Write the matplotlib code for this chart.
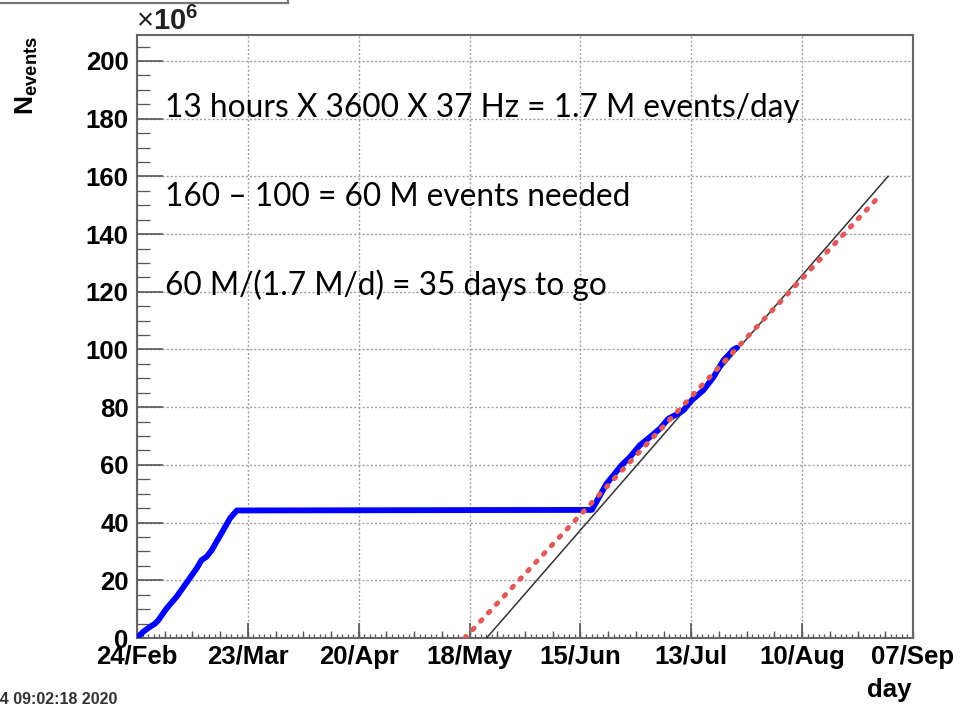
import matplotlib
matplotlib.use("Agg")
import matplotlib.pyplot as plt
from matplotlib.lines import Line2D
from matplotlib.ticker import MultipleLocator

plt.rcParams['font.family'] = ['Liberation Sans', 'DejaVu Sans']
plt.rcParams['mathtext.fontset'] = 'custom'
plt.rcParams['mathtext.rm'] = 'Liberation Sans'
plt.rcParams['mathtext.bf'] = 'Liberation Sans:bold'

# days since 24/Feb/2020
blue_day = [0.0, 1.6, 3.3, 4.5, 5.4, 7.5, 10.0, 13.0, 15.1, 16.3, 17.6, 18.9, 20.1,
            21.8, 23.5, 25.2, 114.9, 118.6, 122.4, 124.5, 127.0, 129.6, 132.1,
            134.2, 135.9, 138.0, 140.1, 143.0, 145.6, 148.1, 150.6, 151.5]
blue_val = [0.0, 2.2, 3.9, 4.9, 6.2, 10.3, 14.3, 20.1, 24.2, 27.0, 28.2, 30.5, 33.4,
            37.4, 41.5, 44.2, 44.4, 53.5, 59.9, 62.7, 66.8, 69.7, 72.6,
            76.0, 77.2, 78.9, 82.4, 85.8, 90.4, 96.2, 99.9, 100.6]

# straight-line projections (start/end)
black_day = [88.3, 189.7]
black_val = [0.0, 160.0]
red_day = [82.8, 188.1]
red_val = [0.0, 154.0]

tick_days = [0, 28, 56, 84, 112, 140, 168, 196]
tick_labels = ['24/Feb', '23/Mar', '20/Apr', '18/May', '15/Jun', '13/Jul', '10/Aug', '07/Sep']

notes = ['13 hours X 3600 X 37 Hz = 1.7 M events/day',
         '160 \u2013 100 = 60 M events needed',
         '60 M/(1.7 M/d) = 35 days to go']

W, H = 976, 711
fig = plt.figure(figsize=(W / 100, H / 100), dpi=100)
ax = fig.add_axes([137 / W, 1 - 638 / H, (913 - 137) / W, (638 - 35) / H])

ax.plot(black_day, black_val, color='#333333', lw=1.1, zorder=3)
ax.plot(blue_day, blue_val, color='#0000ff', lw=4.2, solid_joinstyle='round',
        solid_capstyle='round', zorder=4)
ax.plot(red_day, red_val, color='#e05a5a', lw=3.6, linestyle=(0, (0.4, 1.9)),
        dash_capstyle='round', zorder=5)

ax.set_xlim(0, 196)
ax.set_ylim(0, 209)
ax.set_xticks(tick_days)
ax.set_xticklabels(tick_labels)
ax.xaxis.set_minor_locator(MultipleLocator(1.4))
ax.yaxis.set_major_locator(MultipleLocator(20))
ax.yaxis.set_minor_locator(MultipleLocator(5))

tc = '#555555'
ax.tick_params(axis='x', which='major', direction='in', length=11, width=1.2, color=tc,
               pad=5, labelsize=18.5)
ax.tick_params(axis='x', which='minor', direction='in', length=2.6, width=0.9, color=tc)
ax.tick_params(axis='y', which='major', direction='in', length=19, width=1.2, color=tc,
               pad=6, labelsize=18.5)
ax.tick_params(axis='y', which='minor', direction='in', length=9.5, width=0.9, color=tc)
for lab in ax.get_xticklabels() + ax.get_yticklabels():
    lab.set_fontweight('bold')

# medium ticks every 7 days
sec = ax.secondary_xaxis('bottom')
sec.set_xticks([d for d in range(0, 197, 7)])
sec.tick_params(direction='in', length=5, width=1.0, color=tc, labelbottom=False)
sec.spines['bottom'].set_visible(False)

ax.grid(True, which='major', color='#a0a0a0', lw=1.0, linestyle=(0, (1.5, 1.5)))
for s in ax.spines.values():
    s.set_color('#666666')
    s.set_linewidth(1.5)

# annotations
for txt, yc in zip(notes, [108, 197, 285]):
    fig.text(165 / W, 1 - yc / H, txt, family='Lato', fontsize=22.8, va='center', ha='left',
             color='black')

fig.text(27 / W, 1 - 36 / H, r'$\mathbf{N}_{\mathbf{events}}$', rotation=90,
         va='top', ha='center', fontsize=19)
fig.text(136 / W, 1 - 30 / H, r'$\times\mathbf{10^{6}}$', fontsize=21, ha='left',
         va='baseline', color='#222222')
fig.text(911 / W, 1 - 690 / H, 'day', fontsize=18.5, fontweight='bold', ha='right',
         va='center')
fig.text(117 / W, 1 - 699 / H, 'Fri Jul 24 09:02:18 2020', fontsize=11.5,
         fontweight='bold', ha='right', va='center', color='#333333')

# edge of the title box at top left
fig.add_artist(Line2D([0, 288 / W], [1 - 3 / H, 1 - 3 / H], color='#777777', lw=1.6))
fig.add_artist(Line2D([288 / W, 288 / W], [1 - 3 / H, 1.0], color='#777777', lw=1.6))

fig.savefig('out.png', dpi=100)
